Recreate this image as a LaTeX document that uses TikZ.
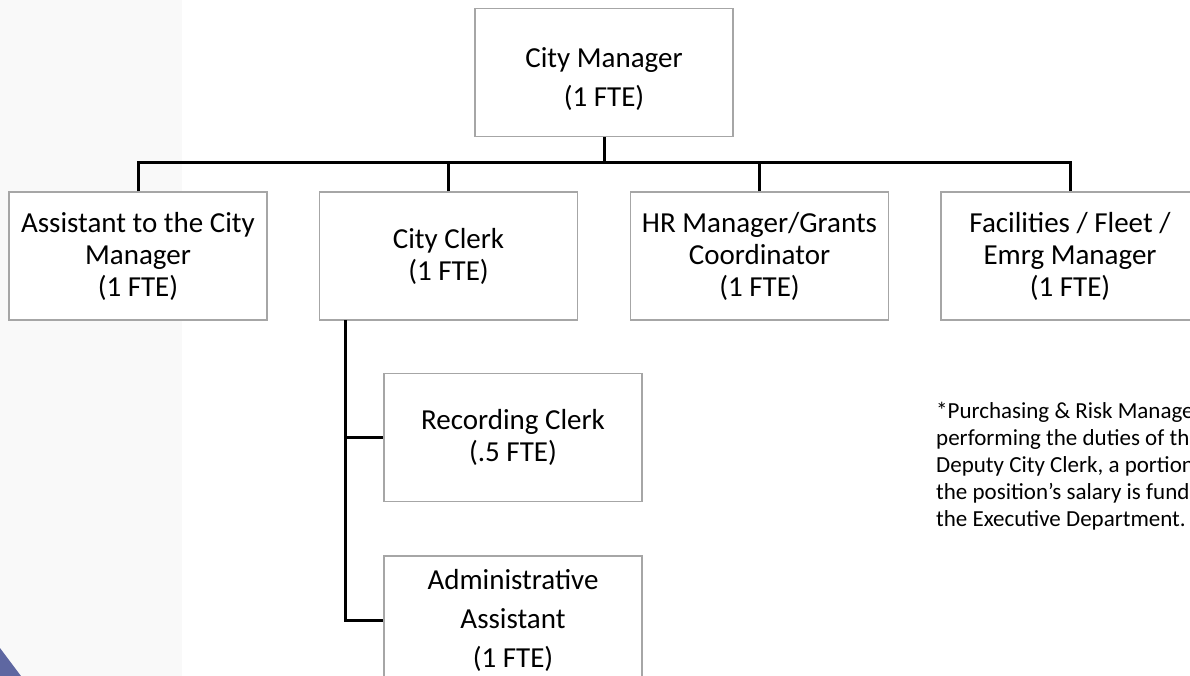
\documentclass[tikz,border=0pt]{standalone}
\usepackage{fontspec}
\setmainfont{Carlito}
\definecolor{bandgrey}{HTML}{F9F9F9}
\definecolor{boxline}{HTML}{A6A6A6}
\definecolor{accent}{HTML}{5E67A1}
\begin{document}
\begin{tikzpicture}[x=1pt,y=-1pt,
  posbox/.style={draw=boxline,line width=1.3pt,fill=white,minimum width=258pt,
    minimum height=128pt,inner sep=0pt,align=center,
    font=\fontsize{29}{32}\selectfont},
  wide/.style={font=\fontsize{29}{39}\selectfont},
  conn/.style={line width=3pt,black},
  notetext/.style={align=left,inner sep=0pt,anchor=north west,
    font=\fontsize{23}{27}\selectfont}]
\useasboundingbox (0,0) rectangle (1190,676);
\clip (0,0) rectangle (1190,676);
\fill[bandgrey] (0,0) rectangle (182,676);
\fill[accent] (0,648) -- (21,676) -- (0,676) -- cycle;

\node[posbox,wide] (cm) at (604,72.5) {\rule{0pt}{33pt}City Manager\\(1 FTE)};
\node[posbox] (asst) at (138,256) {Assistant to the City\\Manager\\(1 FTE)};
\node[posbox] (clerk) at (448.5,256) {City Clerk\\(1 FTE)};
\node[posbox] (hr) at (759.5,256) {HR Manager/Grants\\Coordinator\\(1 FTE)};
\node[posbox] (fac) at (1070,256) {Facilities / Fleet /\\Emrg Manager\\(1 FTE)};
\node[posbox] (rec) at (513,437.5) {Recording Clerk\\(.5 FTE)};
\node[posbox,wide] (adm) at (513,620) {Administrative\\Assistant\\(1 FTE)};

\coordinate (bus) at (604,163);
\draw[conn] (cm.south) -- (bus);
\draw[conn] (asst.north) |- (bus) -| (fac.north);
\draw[conn] (clerk.north) -- (clerk.north |- bus);
\draw[conn] (hr.north) -- (hr.north |- bus);

\coordinate (ctrunk) at (345,320);
\draw[conn] (ctrunk) |- (adm.west);
\draw[conn] (ctrunk |- rec.west) -- (rec.west);

\node[notetext] (note) at (936,402) {*Purchasing \& Risk Manage\\performing the duties of the\\Deputy City Clerk, a portion\\the position’s salary is funde\\the Executive Department.};
\end{tikzpicture}
\end{document}
